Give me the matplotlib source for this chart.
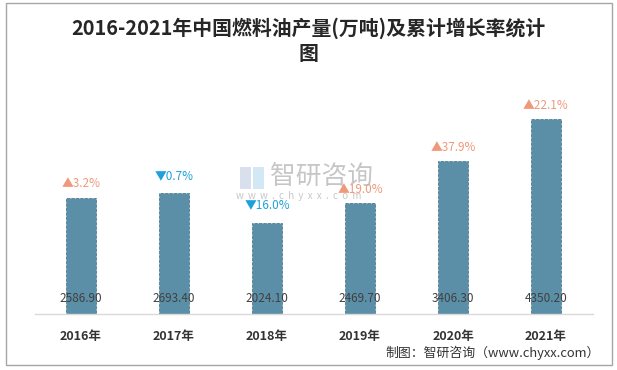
import matplotlib
matplotlib.use("Agg")
import matplotlib.pyplot as plt
from matplotlib.patches import Rectangle

plt.rcParams['font.family'] = ['Noto Sans CJK SC', 'DejaVu Sans']

# data
years = ['2016年', '2017年', '2018年', '2019年', '2020年', '2021年']
output = [2586.90, 2693.40, 2024.10, 2469.70, 3406.30, 4350.20]
growth = [3.2, -0.7, -16.0, 19.0, 37.9, 22.1]

bar_color = '#5B8FA7'
up_color = '#F0987A'
down_color = '#1EA0DC'

W, H = 617, 370
fig = plt.figure(figsize=(W / 100, H / 100), dpi=100)

# axes placed in pixel coords of the reference
left, right, bottom, top = 34.5, 592.5, 313.5, 90.0
px_per_unit = 0.04465
ax = fig.add_axes([left / W, 1 - bottom / H, (right - left) / W, (bottom - top) / H])

x = list(range(len(years)))
ax.bar(x, output, width=0.315, color=bar_color, edgecolor='#4E7E94',
       linewidth=0.6, linestyle='--', zorder=2)

ax.set_xlim(-0.5, len(years) - 0.5)
ax.set_ylim(0, (bottom - top) / px_per_unit)

# value labels near the bottom of the bars
label_y = (bottom - 299) / px_per_unit
for xi, v in zip(x, output):
    ax.text(xi, label_y, '%.2f' % v, ha='center', va='center',
            fontsize=8.5, color='#404040', zorder=3)

# growth labels above the bars
for xi, v, g in zip(x, output, growth):
    if g >= 0:
        s, c, off = '▲%.1f%%' % g, up_color, 14
    else:
        s, c, off = '▼%.1f%%' % abs(g), down_color, 18
    ax.annotate(s, (xi, v), xytext=(0, off * 0.72), textcoords='offset points',
                ha='center', va='center', fontsize=8.5, color=c, zorder=3)

ax.set_xticks(x)
ax.set_xticklabels(years, fontsize=9, fontweight='bold', color='#333333')
ax.tick_params(axis='x', length=0, pad=12)
ax.set_yticks([])
for sp in ['top', 'right', 'left']:
    ax.spines[sp].set_visible(False)
ax.spines['bottom'].set_color('#D9D9D9')
ax.spines['bottom'].set_linewidth(1)

# title
fig.text(0.5, 1 - 28 / H, '2016-2021年中国燃料油产量(万吨)及累计增长率统计',
         ha='center', va='center', fontsize=14.3, fontweight='bold', color='#262626')
fig.text(0.5, 1 - 53 / H, '图', ha='center', va='center', fontsize=14.3,
         fontweight='bold', color='#262626')

# watermark
fig.text(270 / W, 1 - 177 / H, '智研咨询', ha='left', va='center', fontsize=18.5,
         color='#B4B4B4', alpha=0.75, zorder=0)
fig.text(236 / W, 1 - 196 / H, 'w  w  w  .  c  h  y  x  x  .  c  o  m', ha='left',
         va='center', fontsize=7, color='#B4B4B4', alpha=0.75, zorder=0)
fig.patches.append(Rectangle((240 / W, 1 - 189 / H), 11 / W, 22 / H,
                             transform=fig.transFigure, facecolor='#C9D3E6',
                             edgecolor='none', alpha=0.7))
fig.patches.append(Rectangle((253 / W, 1 - 189 / H), 11 / W, 22 / H,
                             transform=fig.transFigure, facecolor='#BFE0F2',
                             edgecolor='none', alpha=0.7))

# source
fig.text(600 / W, 1 - 353 / H, '制图：智研咨询（www.chyxx.com）', ha='right',
         va='center', fontsize=9.3, color='#333333')

# frame
fig.patches.append(Rectangle((6 / W, 1 - 365 / H), 606 / W, 362 / H,
                             transform=fig.transFigure, facecolor='none',
                             edgecolor='#A6A6A6', linewidth=1))

fig.savefig('out.png', dpi=100)
